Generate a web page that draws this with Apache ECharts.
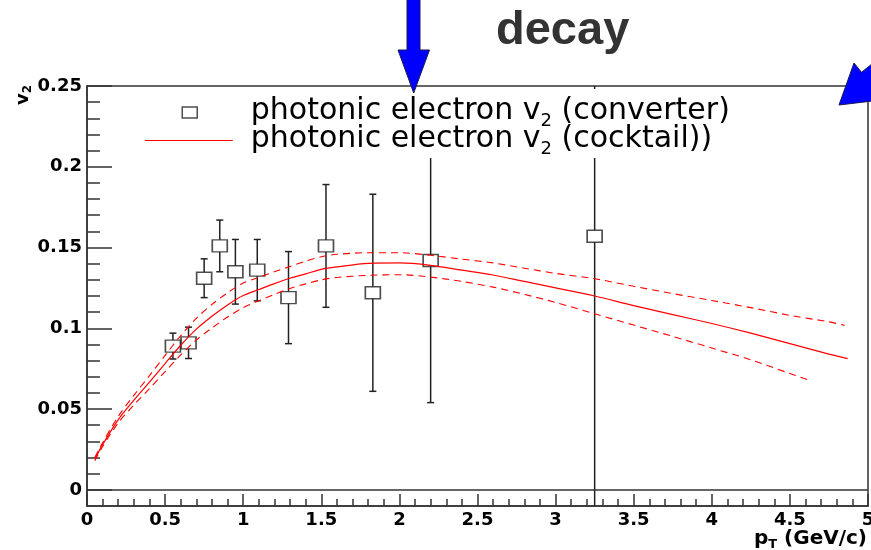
<!DOCTYPE html>
<html>
<head>
<meta charset="utf-8">
<script src="https://cdn.jsdelivr.net/npm/echarts@6/dist/echarts.min.js"></script>
<style>
html, body { margin: 0; padding: 0; background: #fff; }
#chart { width: 871px; height: 550px; }
</style>
</head>
<body>
<div id="chart"></div>
<script>
// Photonic electron v2 measured with the converter method: pT (GeV/c), v2, stat. error
const convPt  = [0.55, 0.65, 0.75, 0.85, 0.95, 1.09, 1.29, 1.53, 1.83, 2.2, 3.25];
const convV2  = [0.089, 0.091, 0.131, 0.151, 0.135, 0.136, 0.119, 0.151, 0.122, 0.142, 0.157];
const convErr = [0.008, 0.0097, 0.012, 0.016, 0.02, 0.019, 0.0285, 0.038, 0.061, 0.088, 0.19];

// Cocktail expectation: central curve
const cockPt = [0.05, 0.1, 0.2, 0.3, 0.4, 0.5, 0.6, 0.7, 0.8, 0.9, 1.0, 1.1, 1.2, 1.3, 1.4, 1.5, 1.6, 1.8, 2.0, 2.2, 2.4, 2.6, 2.8, 3.0, 3.25, 3.5, 3.75, 4.0, 4.25, 4.5, 4.75, 4.87];
const cockV2 = [0.019, 0.028, 0.0435, 0.0555, 0.0667, 0.0782, 0.0895, 0.0995, 0.1075, 0.1145, 0.1203, 0.124, 0.1277, 0.131, 0.1337, 0.1365, 0.138, 0.1402, 0.1405, 0.139, 0.136, 0.133, 0.129, 0.125, 0.12, 0.114, 0.1085, 0.103, 0.097, 0.0905, 0.084, 0.0812];

// Cocktail systematic band: upper edge
const upperPt = [0.05, 0.1, 0.2, 0.3, 0.4, 0.5, 0.6, 0.7, 0.8, 0.9, 1.0, 1.1, 1.2, 1.3, 1.4, 1.5, 1.6, 1.8, 2.0, 2.2, 2.4, 2.6, 2.8, 3.0, 3.25, 3.5, 3.75, 4.0, 4.25, 4.5, 4.75, 4.85];
const upperV2 = [0.02, 0.0292, 0.0455, 0.0585, 0.0707, 0.0832, 0.0955, 0.1062, 0.1148, 0.122, 0.128, 0.1316, 0.135, 0.1383, 0.1415, 0.1443, 0.1458, 0.1468, 0.1468, 0.1452, 0.1428, 0.1405, 0.1372, 0.134, 0.1307, 0.126, 0.1215, 0.1172, 0.1128, 0.108, 0.104, 0.1018];

// Cocktail systematic band: lower edge
const lowerPt = [0.05, 0.1, 0.2, 0.3, 0.4, 0.5, 0.6, 0.7, 0.8, 0.9, 1.0, 1.1, 1.2, 1.3, 1.4, 1.5, 1.6, 1.8, 2.0, 2.2, 2.4, 2.6, 2.8, 3.0, 3.25, 3.5, 3.75, 4.0, 4.25, 4.5, 4.63];
const lowerV2 = [0.018, 0.0268, 0.0415, 0.0525, 0.0627, 0.0732, 0.0835, 0.0928, 0.1002, 0.107, 0.1128, 0.117, 0.121, 0.1247, 0.1275, 0.13, 0.1315, 0.1328, 0.1332, 0.1317, 0.129, 0.1255, 0.121, 0.116, 0.109, 0.102, 0.095, 0.0878, 0.0805, 0.072, 0.0677];

// Axis ticks
const yMajor = [0, 0.05, 0.1, 0.15, 0.2, 0.25];
const yMajorLabels = ['0', '0.05', '0.1', '0.15', '0.2', '0.25'];
const yMinor = [0, 0.01, 0.02, 0.03, 0.04, 0.05, 0.06, 0.07, 0.08, 0.09, 0.1, 0.11, 0.12, 0.13, 0.14, 0.15, 0.16, 0.17, 0.18, 0.19, 0.2, 0.21, 0.22, 0.23, 0.24, 0.25];

const NAME_CONV = 'photonic electron v2 (converter)';
const NAME_COCK = 'photonic electron v2 (cocktail))';
const legendLabels = {};
legendLabels[NAME_CONV] = '{t|photonic electron v}{s|2}{t| (converter)}';
legendLabels[NAME_COCK] = '{t|photonic electron v}{s|2}{t| (cocktail))}';

const AXIS_COLOR = '#333';
const FONT = 'DejaVu Sans';
const axisLineStyle = { color: AXIS_COLOR, width: 1.5 };
const tickLabel = { color: '#000', fontFamily: FONT, fontWeight: 'bold', fontSize: 18 };

const pair = (xs, ys) => xs.map((x, i) => [x, ys[i]]);

const chart = echarts.init(document.getElementById('chart'), null, { renderer: 'canvas' });

chart.setOption({
  animation: false,
  backgroundColor: '#fff',
  grid: {
    left: 87, top: 86, right: 3, bottom: 44,
    outerBoundsMode: 'none',
    containLabel: false,
    show: true,
    borderColor: AXIS_COLOR,
    borderWidth: 1.5,
    backgroundColor: 'rgba(0,0,0,0)'
  },
  xAxis: {
    type: 'value', min: 0, max: 5, interval: 0.5,
    axisLine: { show: true, onZero: false, lineStyle: axisLineStyle },
    axisTick: { show: true, inside: true, length: 12, lineStyle: axisLineStyle },
    minorTick: { show: true, splitNumber: 5, length: 7, lineStyle: axisLineStyle },
    axisLabel: Object.assign({ margin: 5, showMinLabel: true, showMaxLabel: true, hideOverlap: false }, tickLabel),
    splitLine: { show: false },
    minorSplitLine: { show: false }
  },
  yAxis: [
    {
      type: 'value', min: -0.01, max: 0.25,
      axisLine: { show: true, onZero: false, lineStyle: axisLineStyle },
      axisTick: { show: true, inside: true, length: 25, customValues: yMajor, lineStyle: axisLineStyle },
      axisLabel: Object.assign({
        margin: 5, customValues: yMajor,
        formatter: v => {
          const i = yMajor.findIndex(t => Math.abs(t - v) < 1e-9);
          return i >= 0 ? yMajorLabels[i] : '';
        }
      }, tickLabel),
      splitLine: { show: false }
    },
    {
      type: 'value', min: -0.01, max: 0.25, position: 'left', offset: 0,
      axisLine: { show: false },
      axisTick: { show: true, inside: true, length: 13, customValues: yMinor, lineStyle: axisLineStyle },
      axisLabel: { show: false },
      splitLine: { show: false }
    }
  ],
  legend: {
    orient: 'vertical',
    left: 140, top: 89,
    padding: [6, 12, 0, 4],
    backgroundColor: '#fff',
    z: 10,
    selectedMode: false,
    itemWidth: 88, itemHeight: 12, itemGap: -7,
    formatter: name => legendLabels[name],
    textStyle: {
      padding: [0, 0, 0, 13],
      rich: {
        t: { fontFamily: FONT, fontSize: 30, lineHeight: 30, color: '#000', padding: [0, 0, 3, 0] },
        s: { fontFamily: FONT, fontSize: 18, lineHeight: 18, color: '#000', padding: [17, 0, 0, 0] }
      }
    },
    data: [
      { name: NAME_CONV, icon: 'path://M0,0M88,12M37.5,0.5h15v11h-15Z',
        itemStyle: { color: 'rgba(0,0,0,0)', borderColor: '#222', borderWidth: 1.5 } },
      { name: NAME_COCK, icon: 'path://M0,0M88,12M0,6H88',
        itemStyle: { color: 'rgba(0,0,0,0)', borderColor: '#ff0000', borderWidth: 1.2 } }
    ]
  },
  series: [
    {
      // vertical error bars, drawn outside the open markers
      type: 'custom',
      name: 'converter errors',
      clip: true,
      z: 2,
      silent: true,
      encode: { x: 0, y: 1 },
      data: convPt.map((x, i) => [x, convV2[i], convErr[i]]),
      renderItem: (params, api) => {
        const x = api.value(0), y = api.value(1), e = api.value(2);
        const c = api.coord([x, y]);
        const hi = api.coord([x, y + e]);
        const lo = api.coord([x, y - e]);
        const half = 6, cap = 3.5;
        const style = { stroke: '#222', lineWidth: 1.5 };
        return {
          type: 'group',
          children: [
            { type: 'line', shape: { x1: c[0], y1: c[1] - half, x2: hi[0], y2: hi[1] }, style },
            { type: 'line', shape: { x1: c[0], y1: c[1] + half, x2: lo[0], y2: lo[1] }, style },
            { type: 'line', shape: { x1: hi[0] - cap, y1: hi[1], x2: hi[0] + cap, y2: hi[1] }, style },
            { type: 'line', shape: { x1: lo[0] - cap, y1: lo[1], x2: lo[0] + cap, y2: lo[1] }, style }
          ]
        };
      }
    },
    {
      type: 'scatter',
      name: NAME_CONV,
      z: 3,
      silent: true,
      symbol: 'rect',
      symbolSize: [15, 12],
      itemStyle: { color: 'rgba(0,0,0,0)', borderColor: '#222', borderWidth: 1.5 },
      data: pair(convPt, convV2),
      markLine: {
        silent: true, symbol: 'none', animation: false,
        label: { show: false },
        lineStyle: { color: AXIS_COLOR, width: 1.5, type: 'solid' },
        data: [{ yAxis: 0 }]
      }
    },
    {
      type: 'line',
      name: NAME_COCK,
      z: 5,
      silent: true,
      symbol: 'none',
      smooth: 0.3,
      color: '#ff0000',
      lineStyle: { color: '#ff0000', width: 1.2 },
      data: pair(cockPt, cockV2)
    },
    {
      type: 'line',
      name: 'cocktail upper',
      z: 5,
      silent: true,
      symbol: 'none',
      smooth: 0.3,
      lineStyle: { color: '#ff0000', width: 1.1, type: [7, 5] },
      data: pair(upperPt, upperV2)
    },
    {
      type: 'line',
      name: 'cocktail lower',
      z: 5,
      silent: true,
      symbol: 'none',
      smooth: 0.3,
      lineStyle: { color: '#ff0000', width: 1.1, type: [7, 5] },
      data: pair(lowerPt, lowerV2)
    }
  ],
  graphic: [
    {
      type: 'text', x: 496, y: 31, z: 20,
      style: { text: 'decay', fill: '#333', fontFamily: 'Liberation Sans', fontWeight: 'bold', fontSize: 47, align: 'left', verticalAlign: 'middle' }
    },
    {
      type: 'polygon', z: 20,
      shape: { points: [[407, -4], [420, -4], [420, 50], [429.5, 50], [413.7, 93], [398, 50], [407, 50]] },
      style: { fill: '#0000ff', stroke: '#1a1a50', lineWidth: 1 }
    },
    {
      type: 'polygon', z: 20,
      shape: { points: [[839, 105], [854, 63], [861.5, 72.3], [979, -21.3], [993.2, -3.3], [875.9, 90.3], [883.4, 99.7]] },
      style: { fill: '#0000ff', stroke: '#1a1a50', lineWidth: 1 }
    },
    {
      type: 'text', x: 23, y: 85, rotation: Math.PI / 2, z: 20,
      style: {
        text: '{v|v}{s|2}', align: 'right', verticalAlign: 'middle',
        rich: {
          v: { fontFamily: FONT, fontWeight: 'bold', fontSize: 18, lineHeight: 18, fill: '#000' },
          s: { fontFamily: FONT, fontWeight: 'bold', fontSize: 12, lineHeight: 12, fill: '#000', padding: [10, 0, 0, 0] }
        }
      }
    },
    {
      type: 'text', x: 867, y: 539, z: 20,
      style: {
        text: '{p|p}{s|T}{p| (GeV/c)}', align: 'right', verticalAlign: 'middle',
        rich: {
          p: { fontFamily: FONT, fontWeight: 'bold', fontSize: 20, lineHeight: 20, fill: '#000' },
          s: { fontFamily: FONT, fontWeight: 'bold', fontSize: 13, lineHeight: 13, fill: '#000', padding: [11, 0, 0, 0] }
        }
      }
    }
  ]
});
</script>
</body>
</html>
